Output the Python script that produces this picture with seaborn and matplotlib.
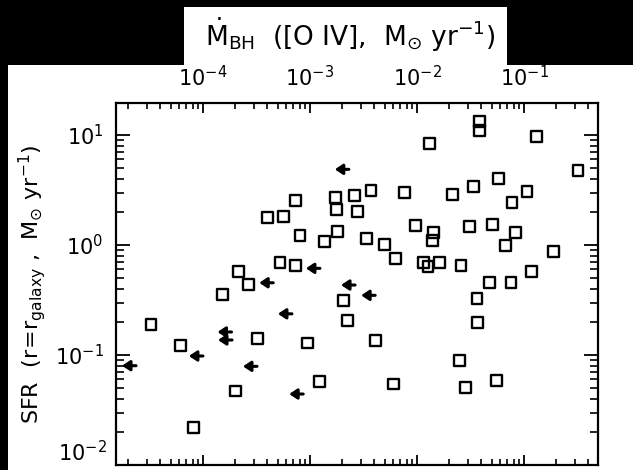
import numpy as np
import pandas as pd
import matplotlib
matplotlib.use("Agg")
import matplotlib.pyplot as plt
from matplotlib.patches import Rectangle
from matplotlib.ticker import LogLocator, NullFormatter, FuncFormatter
import seaborn as sns

# Detected sources: black-hole accretion rate from [O IV] vs. star formation rate
mdot_bh = [0.0130, 0.0382, 0.0388, 0.1315, 0.320, 7.4e-4, 1.75e-3, 2.62e-3, 3.72e-3,
           7.67e-3, 0.0217, 3.99e-4, 5.71e-4, 1.78e-3, 2.81e-3, 0.058, 0.0341, 0.1067,
           0.0773, 8.07e-4, 1.38e-3, 1.80e-3, 3.39e-3, 5.02e-3, 6.26e-3, 9.73e-3,
           0.0144, 0.0139, 0.01146, 0.01268, 0.0161, 0.0311, 0.0509, 0.0836, 0.0668,
           0.190, 0.0258, 0.117, 0.0474, 0.0757, 0.0364, 0.0369, 0.0252, 0.0287,
           0.0551, 5.25e-4, 7.35e-4, 2.14e-4, 2.65e-4, 1.53e-4, 2.05e-3, 2.25e-3,
           3.24e-4, 9.44e-4, 4.11e-3, 1.24e-3, 6.0e-3, 2.02e-4, 3.27e-5, 6.22e-5,
           8.24e-5]
sfr = [8.4, 13.2, 10.9, 9.7, 4.73, 2.53, 2.69, 2.85, 3.16,
       2.99, 2.86, 1.79, 1.81, 2.11, 2.0, 4.03, 3.44, 3.05,
       2.42, 1.22, 1.07, 1.34, 1.14, 1.01, 0.762, 1.51,
       1.31, 1.10, 0.70, 0.635, 0.69, 1.47, 1.55, 1.31, 1.0,
       0.869, 0.648, 0.58, 0.461, 0.461, 0.327, 0.1995, 0.0887, 0.0504,
       0.0583, 0.690, 0.648, 0.571, 0.44, 0.353, 0.314, 0.2066,
       0.142, 0.1286, 0.136, 0.0571, 0.0545, 0.0471, 0.191, 0.1225,
       0.0218]

# Upper limits on the accretion rate
mdot_lim = [2.31e-3, 1.24e-3, 4.54e-4, 2.64e-3, 4.07e-3, 6.79e-4, 1.85e-4, 1.87e-4,
            3.2e-4, 8.65e-4, 1.0e-4, 2.37e-5]
sfr_lim = [4.88, 0.614, 0.454, 0.433, 0.349, 0.237, 0.162, 0.137,
           0.0789, 0.0442, 0.098, 0.080]

x_ticks = [1e-4, 1e-3, 1e-2, 1e-1]
y_ticks = [1e-2, 1e-1, 1e0, 1e1]

det = pd.DataFrame({"mdot": mdot_bh, "sfr": sfr})

sns.set_theme(style="ticks")
plt.rcParams["font.family"] = ["DejaVu Sans"]
plt.rcParams["mathtext.fontset"] = "dejavusans"
plt.rcParams["text.color"] = "black"
plt.rcParams["axes.labelcolor"] = "black"
plt.rcParams["xtick.color"] = "black"
plt.rcParams["ytick.color"] = "black"

fig = plt.figure(figsize=(6.33, 4.70), dpi=100)
fig.patch.set_facecolor("white")
W, H = 633.0, 470.0
ax = fig.add_axes([116 / W, 1 - 465 / H, (598 - 116) / W, (465 - 102.7) / H])

sns.scatterplot(data=det, x="mdot", y="sfr", marker="s", s=62,
                fc="none", ec="black", linewidth=1.7, ax=ax, zorder=3)

ax.set_xscale("log")
ax.set_yscale("log")
ax.set_xlim(1.54e-5, 0.492)
ax.set_ylim(0.01, 19.7)

# left-pointing arrows for the upper limits
arrow_dex = 0.131
for xv, yv in zip(mdot_lim, sfr_lim):
    ax.annotate("", xy=(xv * 10 ** (-arrow_dex), yv), xytext=(xv, yv),
                arrowprops=dict(arrowstyle="-|>,head_length=0.45,head_width=0.3",
                                mutation_scale=10, lw=2.2, color="black",
                                shrinkA=0, shrinkB=0), zorder=4)

ax.set_xlabel("")
ax.set_ylabel(r"SFR  $(\mathrm{r\!=\!r_{galaxy}}$ ,  M$_{\odot}$ yr$^{-1})$",
              fontsize=16, labelpad=5, color="black")


def pow_label(v, pos):
    e = int(round(np.log10(v)))
    return r"$10^{%d}$" % e


def pow_label_y(v, pos):
    e = int(round(np.log10(v)))
    # the lowest label is placed separately so it stays inside the frame
    if e == -2:
        return ""
    return r"$10^{%d}$" % e


ax.set_xticks(x_ticks)
ax.xaxis.set_minor_locator(LogLocator(base=10, subs=np.arange(2, 10), numticks=10))
ax.xaxis.set_major_formatter(FuncFormatter(pow_label))
ax.xaxis.set_minor_formatter(NullFormatter())
ax.set_yticks(y_ticks)
ax.yaxis.set_minor_locator(LogLocator(base=10, subs=np.arange(2, 10), numticks=10))
ax.yaxis.set_major_formatter(FuncFormatter(pow_label_y))
ax.yaxis.set_minor_formatter(NullFormatter())

ax.tick_params(axis="x", which="major", direction="in", length=7, width=1.3,
               top=True, bottom=True, labeltop=True, labelbottom=False,
               labelsize=15, pad=9, colors="black")
ax.tick_params(axis="x", which="minor", direction="in", length=4, width=1.2,
               top=True, bottom=True)
ax.tick_params(axis="y", which="major", direction="in", length=10, width=1.3,
               left=True, right=True, labelsize=15, pad=9, colors="black")
ax.tick_params(axis="y", which="minor", direction="in", length=6, width=1.2,
               left=True, right=True)
for sp in ax.spines.values():
    sp.set_linewidth(1.6)
    sp.set_color("black")
    sp.set_visible(True)

ax.annotate(r"$10^{-2}$", xy=(0, y_ticks[0]), xycoords=("axes fraction", "data"),
            xytext=(-9 * 0.72, 0), textcoords="offset points",
            ha="right", va="bottom", fontsize=15, color="black")

# black framing around the panel
def frame_rect(x0, y0, x1, y1):
    fig.add_artist(Rectangle((x0 / W, 1 - y1 / H), (x1 - x0) / W, (y1 - y0) / H,
                             transform=fig.transFigure, facecolor="black",
                             edgecolor="none", zorder=0))

frame_rect(0, 0, 8, H)
frame_rect(0, 0, 184, 65)
frame_rect(507, 0, W, 65)
frame_rect(184, 0, 507, 7)

fig.text(350 / W, 1 - 35 / H,
         r"$\dot{\mathrm{M}}_{\mathrm{BH}}$  ([O IV],  M$_{\odot}$ yr$^{-1}$)",
         ha="center", va="center", fontsize=19, color="black", zorder=5)

fig.savefig("out.png", dpi=100, facecolor="white")
